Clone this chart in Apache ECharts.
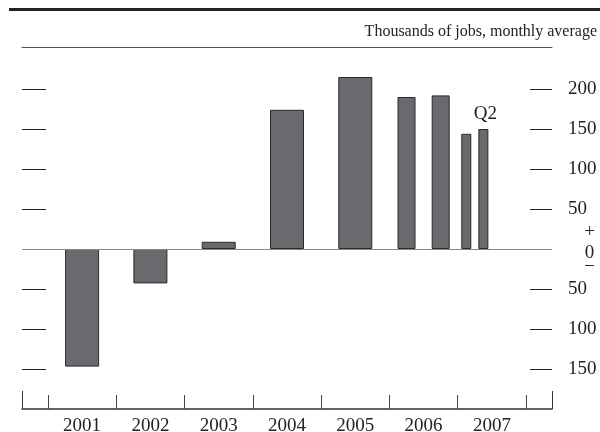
<!DOCTYPE html>
<html>
<head>
<meta charset="utf-8">
<script src="https://cdn.jsdelivr.net/npm/echarts@6/dist/echarts.min.js"></script>
<style>
  html, body { margin: 0; padding: 0; background: #fff; }
  #main { width: 600px; height: 432px; }
</style>
</head>
<body>
<div id="main"></div>
<script>
// years shown on the axis
const years = [2001, 2002, 2003, 2004, 2005, 2006, 2007];
// annual averages, 2001-2005 (bar sits at mid-year)
const annualPos = [2001.5, 2002.5, 2003.5, 2004.5, 2005.5];
const annualVals = [-147, -43, 9, 174, 215];
// 2006 half-years H1, H2
const halfPos = [2006.25, 2006.75];
const halfVals = [190, 192];
// 2007 quarters Q1, Q2
const quarterPos = [2007.125, 2007.375];
const quarterVals = [144, 150];
// y tick labels
const yTicks = [-150, -100, -50, 0, 50, 100, 150, 200];

const serif = 'Liberation Serif';
const xMin = 2000.62, xMax = 2008.38;
const barStyle = { color: '#6a6a6e', borderColor: '#2a2a2a', borderWidth: 1 };

const chart = echarts.init(document.getElementById('main'), null, { renderer: 'canvas' });

function pairs(pos, vals) {
  return pos.map((p, i) => [p, vals[i]]);
}

const quarterData = pairs(quarterPos, quarterVals).map((d, i) => {
  if (i === 1) {
    return {
      value: d,
      label: { show: true, position: 'top', distance: 5, offset: [2, 0], formatter: 'Q2',
               fontFamily: serif, fontSize: 19, color: '#222' }
    };
  }
  return { value: d };
});

const hidden = { show: false };
const signStyle = { fontFamily: serif, fontSize: 19, color: '#222', width: 11, align: 'center',
                    padding: [0, 0, 0, 16] };

chart.setOption({
  animation: false,
  title: {
    text: 'Thousands of jobs, monthly average',
    right: 3, top: 24, padding: 0,
    textStyle: { fontFamily: serif, fontSize: 16, fontWeight: 'normal', color: '#222' }
  },
  graphic: [{
    type: 'rect', shape: { x: 9, y: 8, width: 591, height: 3 },
    style: { fill: '#222' }, silent: true
  }],
  // labels sit outside the chart area on purpose, so keep the grid fixed
  grid: { left: 22, right: 48, top: 47, bottom: 23, outerBoundsMode: 'none', containLabel: false },
  xAxis: [
    { // main axis: line, year ticks and labels
      type: 'value', min: xMin, max: xMax, position: 'bottom',
      axisLine: { show: true, onZero: false, lineStyle: { color: '#333', width: 1.5 } },
      axisTick: { show: true, inside: true, length: 14, customValues: years.concat([2008]),
                  lineStyle: { color: '#444' } },
      axisLabel: { customValues: years.map(y => y + 0.5), formatter: v => Math.floor(v),
                   margin: 8, fontFamily: serif, fontSize: 19, color: '#222' },
      splitLine: hidden
    },
    { // end ticks
      type: 'value', min: xMin, max: xMax, position: 'bottom',
      axisLine: { show: false, onZero: false },
      axisTick: { show: true, inside: true, length: 18, customValues: [xMin, xMax],
                  lineStyle: { color: '#333' } },
      axisLabel: hidden, splitLine: hidden
    },
    { // top rule
      type: 'value', min: xMin, max: xMax, position: 'top',
      axisLine: { show: true, onZero: false, lineStyle: { color: '#555', width: 1 } },
      axisTick: hidden, axisLabel: hidden, splitLine: hidden
    }
  ],
  yAxis: [
    {
      type: 'value', min: -200, max: 252.5, interval: 50, position: 'right',
      axisLine: { show: false, onZero: false },
      axisTick: { show: true, inside: true, length: 22, customValues: yTicks,
                  lineStyle: { color: '#222' } },
      axisLabel: {
        customValues: yTicks, margin: 16, align: 'left',
        fontFamily: serif, fontSize: 19, color: '#222',
        formatter: v => v === 0 ? '{a|+}\n{z|0}\n{m|−}\n{e| }' : String(Math.abs(v)),
        rich: {
          a: Object.assign({ lineHeight: 26 }, signStyle),
          z: Object.assign({ lineHeight: 16 }, signStyle),
          m: Object.assign({ lineHeight: 12 }, signStyle),
          e: { fontSize: 6, lineHeight: 6 }
        }
      },
      splitLine: hidden
    },
    {
      type: 'value', min: -200, max: 252.5, interval: 50, position: 'left',
      axisLine: { show: false, onZero: false },
      axisTick: { show: true, inside: true, length: 24, customValues: yTicks,
                  lineStyle: { color: '#222' } },
      axisLabel: hidden, splitLine: hidden
    }
  ],
  series: [
    {
      type: 'bar', xAxisIndex: 0, yAxisIndex: 0, barWidth: 34,
      data: pairs(annualPos, annualVals), itemStyle: barStyle,
      markLine: {
        silent: true, symbol: 'none', label: hidden,
        lineStyle: { color: '#888', width: 1, type: 'solid' },
        data: [{ yAxis: 0 }]
      }
    },
    {
      type: 'bar', xAxisIndex: 1, yAxisIndex: 0, barWidth: 18,
      data: pairs(halfPos, halfVals), itemStyle: barStyle
    },
    {
      type: 'bar', xAxisIndex: 2, yAxisIndex: 0, barWidth: 10,
      data: quarterData, itemStyle: barStyle
    }
  ]
});
</script>
</body>
</html>
